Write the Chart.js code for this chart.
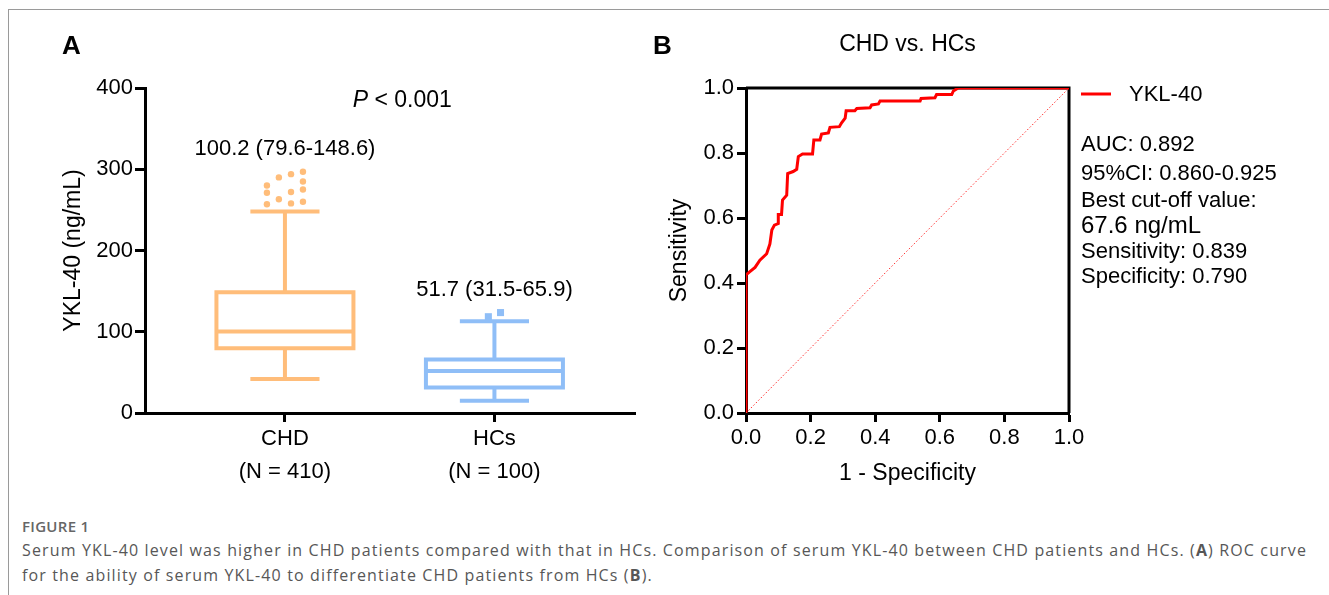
<!DOCTYPE html>
<html>
<head>
<meta charset="utf-8">
<script src="https://cdn.jsdelivr.net/npm/chart.js@4.4.1/dist/chart.umd.min.js"></script>
<style>
  body { margin: 0; width: 1329px; height: 595px; position: relative; overflow: hidden; background: #fff; }
  #frame { position: absolute; left: 8px; top: 9px; right: -2px; bottom: -2px; border-top: 1px solid #9a9a9a; border-left: 1px solid #9a9a9a; }
  canvas { position: absolute; top: 0; }
  #chartA { left: 0; }
  #chartB { left: 640px; }
  .cap { position: absolute; left: 22px; font-family: 'Open Sans', sans-serif; white-space: nowrap; }
  #figLabel { top: 516px; font-size: 15px; font-weight: 600; color: #666; letter-spacing: 0.3px; }
  #figText { top: 538px; font-size: 16px; line-height: 25px; color: #575757; }
</style>
</head>
<body>
<div id="frame"></div>
<canvas id="chartA" width="660" height="500"></canvas>
<canvas id="chartB" width="689" height="500"></canvas>
<div class="cap" id="figLabel">FIGURE 1</div>
<div class="cap" id="figText"><span id="capLine1">Serum YKL-40 level was higher in CHD patients compared with that in HCs. Comparison of serum YKL-40 between CHD patients and HCs. (<b>A</b>) ROC curve</span><br>for the ability of serum YKL-40 to differentiate CHD patients from HCs (<b>B</b>).</div>
<script>
// panel A: box plot values (ng/mL)
const groups = ['CHD', 'HCs'];
const groupN = ['(N = 410)', '(N = 100)'];
const medians = [100.2, 51.7];
const q1 = [79.6, 31.5];
const q3 = [148.6, 65.9];
const whiskerLow = [42, 15];
const whiskerHigh = [248, 113];
const chdOutliers = [280, 271, 257, 290, 263, 294, 272, 258, 297, 285, 275, 260];
const chdOutlierJitter = [-0.086, -0.086, -0.086, -0.029, -0.029, 0.029, 0.029, 0.029, 0.086, 0.086, 0.086, 0.086];
const hcOutliers = [118.5, 123.6];
const hcOutlierJitter = [-0.029, 0.029];
const yTicksA = [0, 100, 200, 300, 400];

// panel B: ROC curve
const fpr = [0, 0, 0.012, 0.028, 0.043, 0.064, 0.074, 0.08, 0.088, 0.1, 0.1, 0.11, 0.113, 0.126, 0.129,
  0.146, 0.157, 0.162, 0.175, 0.206, 0.21, 0.229, 0.234, 0.255, 0.26, 0.289, 0.296, 0.307, 0.31, 0.337,
  0.343, 0.384, 0.389, 0.41, 0.415, 0.539, 0.542, 0.585, 0.59, 0.637, 0.642, 0.652, 0.657, 1.0];
const tpr = [0, 0.425, 0.435, 0.448, 0.47, 0.49, 0.52, 0.563, 0.578, 0.583, 0.611, 0.611, 0.655, 0.67, 0.737,
  0.743, 0.75, 0.789, 0.797, 0.797, 0.84, 0.84, 0.858, 0.862, 0.879, 0.881, 0.893, 0.907, 0.93, 0.93,
  0.937, 0.939, 0.948, 0.951, 0.96, 0.96, 0.968, 0.97, 0.98, 0.98, 0.991, 0.997, 1.0, 1.0];
const rocTicks = [0, 0.2, 0.4, 0.6, 0.8, 1.0];
const rocStats = ['AUC: 0.892', '95%CI: 0.860-0.925', 'Best cut-off value:', '67.6 ng/mL', 'Sensitivity: 0.839', 'Specificity: 0.790'];

const FONT = "'Liberation Sans', Arial, Helvetica, sans-serif";
Chart.defaults.font.family = FONT;
Chart.defaults.color = '#000';

const groupColors = ['#FFBD7A', '#8FBEF7'];
const BOX_HALF = 0.327;
const CAP_HALF = 0.165;

// stretch the first caption line to the width it has in the figure
const line1 = document.getElementById('capLine1');
const capText = document.getElementById('figText');
const w1 = line1.getBoundingClientRect().width;
capText.style.letterSpacing = ((1285 - w1) / line1.textContent.length) + 'px';

function lineSet(points, color, width, cap) {
  return {
    data: points.map(p => ({ x: p[0], y: p[1] })),
    showLine: true,
    borderColor: color,
    borderWidth: width,
    pointRadius: 0,
    tension: 0,
    borderJoinStyle: 'miter',
    borderCapStyle: cap || 'butt'
  };
}

const boxSets = [];
groups.forEach((g, i) => {
  const c = groupColors[i];
  boxSets.push(lineSet([[i - BOX_HALF, q1[i]], [i + BOX_HALF, q1[i]], [i + BOX_HALF, q3[i]], [i - BOX_HALF, q3[i]], [i - BOX_HALF, q1[i]]], c, 4, 'square'));
  boxSets.push(lineSet([[i - BOX_HALF, medians[i]], [i + BOX_HALF, medians[i]]], c, 4));
  boxSets.push(lineSet([[i, q3[i]], [i, whiskerHigh[i]]], c, 4));
  boxSets.push(lineSet([[i - CAP_HALF, whiskerHigh[i]], [i + CAP_HALF, whiskerHigh[i]]], c, 4));
  boxSets.push(lineSet([[i, q1[i]], [i, whiskerLow[i]]], c, 4));
  boxSets.push(lineSet([[i - CAP_HALF, whiskerLow[i]], [i + CAP_HALF, whiskerLow[i]]], c, 4));
});
boxSets.push({
  data: chdOutliers.map((v, k) => ({ x: 0 + chdOutlierJitter[k], y: v })),
  pointRadius: 3.2, pointStyle: 'circle', backgroundColor: groupColors[0], borderWidth: 0
});
boxSets.push({
  data: hcOutliers.map((v, k) => ({ x: 1 + hcOutlierJitter[k], y: v })),
  pointRadius: 5, pointStyle: 'rect', backgroundColor: groupColors[1], borderWidth: 0
});

const annotA = {
  id: 'annotA',
  afterDraw(chart) {
    const { ctx } = chart;
    const x = chart.scales.x, y = chart.scales.y;
    ctx.save();
    ctx.fillStyle = '#000';
    ctx.textBaseline = 'middle';
    // panel letter
    ctx.font = 'bold 26px ' + FONT;
    ctx.textAlign = 'left';
    ctx.fillText('A', 62, 47);
    // P value
    ctx.font = 'italic 23px ' + FONT;
    const px = x.getPixelForValue(0.56), py = y.getPixelForValue(385);
    const pw = ctx.measureText('P').width;
    ctx.font = '23px ' + FONT;
    const rest = ' < 0.001';
    const rw = ctx.measureText(rest).width;
    const startX = px - (pw + rw) / 2;
    ctx.font = 'italic 23px ' + FONT;
    ctx.fillText('P', startX, py);
    ctx.font = '23px ' + FONT;
    ctx.fillText(rest, startX + pw, py);
    // median (IQR) labels
    ctx.textAlign = 'center';
    ctx.font = '22px ' + FONT;
    const labelY = [325, 152];
    groups.forEach((g, i) => {
      ctx.fillText(medians[i] + ' (' + q1[i] + '-' + q3[i] + ')', x.getPixelForValue(i), y.getPixelForValue(labelY[i]));
    });
    ctx.restore();
  }
};

new Chart(document.getElementById('chartA'), {
  type: 'scatter',
  data: { datasets: boxSets },
  options: {
    responsive: false,
    animation: false,
    devicePixelRatio: 1,
    layout: { padding: { top: 88, right: 25, left: 0, bottom: 0 } },
    plugins: { legend: { display: false }, tooltip: { enabled: false } },
    scales: {
      x: {
        type: 'linear', min: -0.668, max: 1.671,
        afterBuildTicks: s => { s.ticks = groups.map((g, i) => ({ value: i })); },
        afterFit: s => { s.height = 87; },
        ticks: { font: { size: 22, lineHeight: 1.5 }, color: '#000', padding: 0, autoSkip: false, maxRotation: 0,
          callback: v => [groups[v], groupN[v]] },
        grid: { drawOnChartArea: false, tickLength: 9, tickWidth: 3, tickColor: '#000' },
        border: { color: '#000', width: 3 }
      },
      y: {
        min: 0, max: 400,
        afterBuildTicks: s => { s.ticks = yTicksA.map(v => ({ value: v })); },
        afterFit: s => { s.width = 145; },
        ticks: { font: { size: 22 }, color: '#000', padding: 2 },
        grid: { drawOnChartArea: false, tickLength: 10, tickWidth: 3, tickColor: '#000' },
        border: { color: '#000', width: 3 },
        title: { display: true, text: 'YKL-40 (ng/mL)', font: { size: 23 }, color: '#000', padding: { top: 60, bottom: 0 } }
      }
    }
  },
  plugins: [annotA]
});

const frameB = {
  id: 'frameB',
  beforeDatasetsDraw(chart) {
    const { ctx, chartArea: a } = chart;
    ctx.save();
    ctx.strokeStyle = '#000';
    ctx.lineWidth = 3;
    ctx.beginPath();
    ctx.moveTo(a.left, a.top);
    ctx.lineTo(a.right, a.top);
    ctx.lineTo(a.right, a.bottom);
    ctx.stroke();
    ctx.restore();
  },
  afterDraw(chart) {
    const { ctx, chartArea: a } = chart;
    ctx.save();
    ctx.fillStyle = '#000';
    ctx.textBaseline = 'middle';
    ctx.font = 'bold 26px ' + FONT;
    ctx.textAlign = 'left';
    ctx.fillText('B', 13, 47);
    ctx.font = '23px ' + FONT;
    ctx.textAlign = 'center';
    ctx.fillText('CHD vs. HCs', (a.left + a.right) / 2, 45);
    // legend
    const lx = a.right + 12;
    ctx.strokeStyle = '#FF0000';
    ctx.lineWidth = 3;
    ctx.beginPath();
    ctx.moveTo(lx, 94);
    ctx.lineTo(lx + 30, 94);
    ctx.stroke();
    ctx.textAlign = 'left';
    ctx.font = '22px ' + FONT;
    ctx.fillText('YKL-40', lx + 48, 95);
    const statY = [145, 174, 201, 226, 252, 277];
    rocStats.forEach((t, i) => {
      ctx.font = (i === 3 ? '24px ' : '22px ') + FONT;
      ctx.fillText(t, lx, statY[i]);
    });
    ctx.restore();
  }
};

new Chart(document.getElementById('chartB'), {
  type: 'scatter',
  data: {
    datasets: [
      {
        label: 'Reference',
        data: [{ x: 0, y: 0 }, { x: 1, y: 1 }],
        showLine: true, borderColor: '#FF3030', borderWidth: 1, borderDash: [1.5, 2], pointRadius: 0
      },
      {
        label: 'YKL-40',
        data: fpr.map((f, i) => ({ x: f, y: tpr[i] })),
        showLine: true, borderColor: '#FF0000', borderWidth: 3, pointRadius: 0, tension: 0,
        borderJoinStyle: 'miter'
      }
    ]
  },
  options: {
    responsive: false,
    animation: false,
    devicePixelRatio: 1,
    layout: { padding: { top: 88, right: 260, left: 0, bottom: 0 } },
    plugins: { legend: { display: false }, tooltip: { enabled: false } },
    scales: {
      x: {
        type: 'linear', min: 0, max: 1,
        afterBuildTicks: s => { s.ticks = rocTicks.map(v => ({ value: v })); },
        afterFit: s => { s.height = 87; },
        ticks: { font: { size: 22 }, color: '#000', padding: 3, maxRotation: 0, callback: v => v.toFixed(1) },
        grid: { drawOnChartArea: false, tickLength: 9, tickWidth: 3, tickColor: '#000' },
        border: { color: '#000', width: 3 },
        title: { display: true, text: '1 - Specificity', font: { size: 23 }, color: '#000', padding: { top: 0, bottom: 13 } }
      },
      y: {
        min: 0, max: 1,
        afterBuildTicks: s => { s.ticks = rocTicks.map(v => ({ value: v })); },
        afterFit: s => { s.width = 106; },
        ticks: { font: { size: 22 }, color: '#000', padding: 3, callback: v => v.toFixed(1) },
        grid: { drawOnChartArea: false, tickLength: 9, tickWidth: 3, tickColor: '#000' },
        border: { color: '#000', width: 3 },
        title: { display: true, text: 'Sensitivity', font: { size: 23 }, color: '#000', padding: { top: 26, bottom: 0 } }
      }
    }
  },
  plugins: [frameB]
});
</script>
</body>
</html>
